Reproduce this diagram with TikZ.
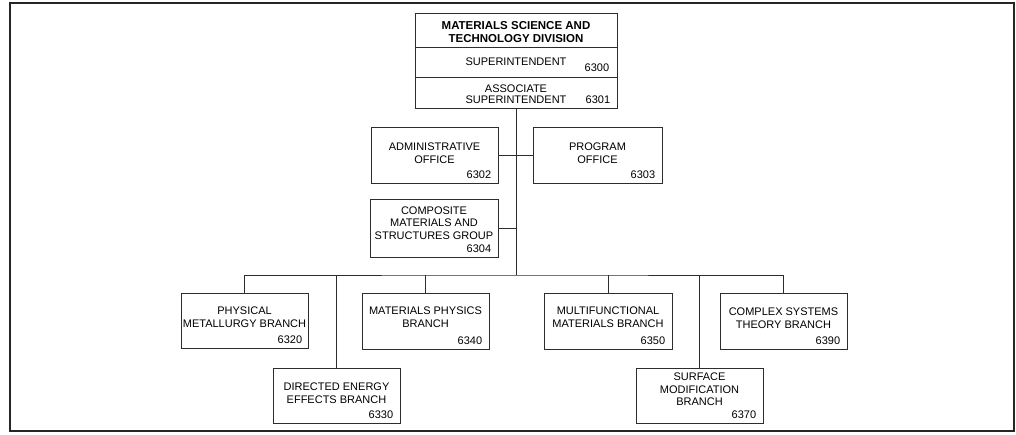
\documentclass[tikz,border=0pt]{standalone}
\usepackage{fontspec}
\setmainfont{Liberation Sans}
\definecolor{FrameGray}{RGB}{38, 38, 38}
\definecolor{LineGray}{RGB}{45, 45, 45}
\usetikzlibrary{positioning}

\begin{document}
\begin{tikzpicture}[x=1pt, y=-1pt,
    unitbox/.style={draw=LineGray, line width=0.8pt, inner sep=0pt,
                    minimum width=127pt, minimum height=56pt},
    unitname/.style={inner sep=0pt, align=center, font=\fontsize{11}{12.7}\selectfont},
    unitcode/.style={inner sep=0pt, font=\fontsize{11}{12.7}\selectfont},
    link/.style={draw=LineGray, line width=0.8pt}]
  \useasboundingbox (0,0) rectangle (1016,435);
  \draw[FrameGray, line width=2.5pt] (10,3) rectangle (1014,431);

  % division head
  \node[unitbox, minimum width=202pt, minimum height=34pt] (title) at (516,30) {};
  \node[unitname, font=\fontsize{11.5}{13.3}\selectfont\bfseries, below=8.7pt of title.north] (title-name)
    {MATERIALS SCIENCE AND\\TECHNOLOGY DIVISION};
  \node[unitbox, minimum width=202pt, minimum height=30pt] (sup) at (516,62) {};
  \node[unitname, below=10.7pt of sup.north] (sup-name) {SUPERINTENDENT};
  \node[unitcode, above left=5.3pt and 8pt of sup.south east] (sup-code) {6300};
  \node[unitbox, minimum width=202pt, minimum height=31pt] (assoc) at (516,92.5) {};
  \node[unitname, font=\fontsize{11}{10.7}\selectfont, below=8pt of assoc.north] (assoc-name)
    {ASSOCIATE\\SUPERINTENDENT};
  \node[unitcode, above left=4.7pt and 7pt of assoc.south east] (assoc-code) {6301};

  % staff offices
  \node[unitbox] (adm) at (434.5,155) {};
  \node[unitname, below=16pt of adm.north] (adm-name) {ADMINISTRATIVE\\OFFICE};
  \node[unitcode, above left=4.7pt and 7pt of adm.south east] (adm-code) {6302};
  \node[unitbox, minimum width=129pt] (prog) at (597.5,155) {};
  \node[unitname, below=16pt of prog.north] (prog-name) {PROGRAM\\OFFICE};
  \node[unitcode, above left=4.7pt and 7pt of prog.south east] (prog-code) {6303};
  \node[unitbox, minimum width=128pt, minimum height=58pt] (comp) at (434,228) {};
  \node[unitname, below=7.7pt of comp.north] (comp-name)
    {COMPOSITE\\MATERIALS AND\\STRUCTURES GROUP};
  \node[unitcode, above left=4.7pt and 7pt of comp.south east] (comp-code) {6304};

  % branches
  \node[unitbox, minimum height=55pt] (pmb) at (244.5,320.5) {};
  \node[unitname, below=14pt of pmb.north] (pmb-name) {PHYSICAL\\METALLURGY BRANCH};
  \node[unitcode, above left=4.7pt and 6pt of pmb.south east] (pmb-code) {6320};
  \node[unitbox, minimum height=55pt] (deb) at (336.5,395.5) {};
  \node[unitname, below=15pt of deb.north] (deb-name) {DIRECTED ENERGY\\EFFECTS BRANCH};
  \node[unitcode, above left=4.7pt and 7pt of deb.south east] (deb-code) {6330};
  \node[unitbox] (mpb) at (425.5,321) {};
  \node[unitname, below=14pt of mpb.north] (mpb-name) {MATERIALS PHYSICS\\BRANCH};
  \node[unitcode, above left=4.7pt and 7pt of mpb.south east] (mpb-code) {6340};
  \node[unitbox, minimum width=128pt] (mmb) at (608,321) {};
  \node[unitname, below=14pt of mmb.north] (mmb-name) {MULTIFUNCTIONAL\\MATERIALS BRANCH};
  \node[unitcode, above left=4.7pt and 7pt of mmb.south east] (mmb-code) {6350};
  \node[unitbox, minimum height=55pt] (smb) at (699.5,395.5) {};
  \node[unitname, below=5pt of smb.north] (smb-name) {SURFACE\\MODIFICATION\\BRANCH};
  \node[unitcode, above left=4.7pt and 7pt of smb.south east] (smb-code) {6370};
  \node[unitbox] (cstb) at (783.5,321) {};
  \node[unitname, below=15pt of cstb.north] (cstb-name) {COMPLEX SYSTEMS\\THEORY BRANCH};
  \node[unitcode, above left=4.7pt and 7pt of cstb.south east] (cstb-code) {6390};

  % connectors
  \coordinate (bus) at (516,275);
  \draw[link] (assoc.south) -- (bus);
  \draw[link] (adm) -- (prog);
  \draw[link] (comp.east) -- (comp.east -| bus);
  \draw[link] (pmb.north) |- (bus) -| (cstb.north);
  \foreach \b in {deb,mpb,mmb,smb}
    \draw[link] (\b.north) -- (\b.north |- bus);
\end{tikzpicture}
\end{document}
